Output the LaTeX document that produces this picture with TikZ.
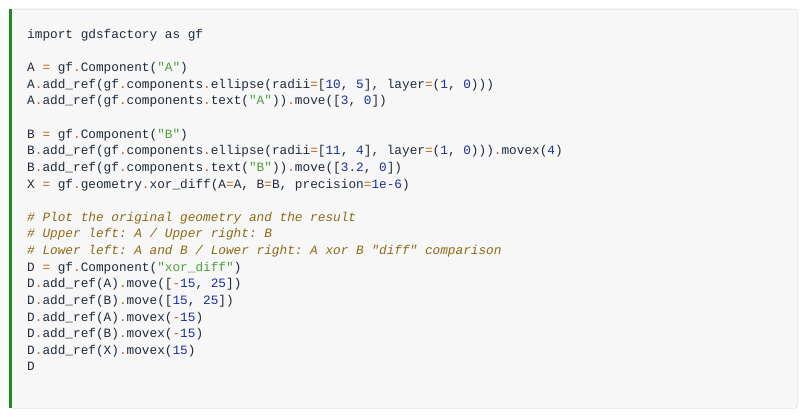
\documentclass[tikz,border=0pt]{standalone}
\usepackage{fontspec}
\setmonofont{Liberation Mono}
\definecolor{bg}{HTML}{F7F7F7}
\definecolor{bd}{HTML}{CFCFCF}
\definecolor{bar}{HTML}{1E8C1E}
\definecolor{txt}{HTML}{1F2A3C}
\definecolor{opc}{HTML}{B8631A}
\definecolor{strc}{HTML}{4EA03A}
\definecolor{numc}{HTML}{1A2FA0}
\definecolor{cmc}{HTML}{8C6A14}
\newcommand\Op[1]{\textcolor{opc}{#1}}
\newcommand\Sg[1]{\textcolor{strc}{#1}}
\newcommand\Nm[1]{\textcolor{numc}{#1}}
\newcommand\Cm[1]{\textcolor{cmc}{\itshape #1}}
\newcommand\D{\Op{.}}
\newcommand\E{\Op{=}}
\begin{document}
\begin{tikzpicture}[x=1pt,y=-1pt,
  code/.style={anchor=base west,inner sep=0pt,text=txt,font=\ttfamily\fontsize{12.75}{14}\selectfont}]
\useasboundingbox (0,0) rectangle (807,417);
\fill[white] (0,0) rectangle (807,417);
\node[draw=bd,fill=bg,rounded corners=2pt,minimum width=788,minimum height=399,anchor=north west,inner sep=0pt] (box) at (9,9) {};
\fill[bar] (box.north west) rectangle ([xshift=3]box.south west);
\def\ly#1{\fpeval{38.5+16.62*(#1-1)}}
\node[code] (l1) at (27,\ly{1}) {import gdsfactory as gf};
\node[code] (l3) at (27,\ly{3}) {A \E{} gf\D Component(\Sg{"A"})};
\node[code] (l4) at (27,\ly{4}) {A\D add\_ref(gf\D components\D ellipse(radii\E[\Nm{10}, \Nm{5}], layer\E(\Nm{1}, \Nm{0})))};
\node[code] (l5) at (27,\ly{5}) {A\D add\_ref(gf\D components\D text(\Sg{"A"}))\D move([\Nm{3}, \Nm{0}])};
\node[code] (l7) at (27,\ly{7}) {B \E{} gf\D Component(\Sg{"B"})};
\node[code] (l8) at (27,\ly{8}) {B\D add\_ref(gf\D components\D ellipse(radii\E[\Nm{11}, \Nm{4}], layer\E(\Nm{1}, \Nm{0})))\D movex(\Nm{4})};
\node[code] (l9) at (27,\ly{9}) {B\D add\_ref(gf\D components\D text(\Sg{"B"}))\D move([\Nm{3.2}, \Nm{0}])};
\node[code] (l10) at (27,\ly{10}) {X \E{} gf\D geometry\D xor\_diff(A\E A, B\E B, precision\E\Nm{1e-6})};
\node[code] (l12) at (27,\ly{12}) {\Cm{\# Plot the original geometry and the result}};
\node[code] (l13) at (27,\ly{13}) {\Cm{\# Upper left: A / Upper right: B}};
\node[code] (l14) at (27,\ly{14}) {\Cm{\# Lower left: A and B / Lower right: A xor B "diff" comparison}};
\node[code] (l15) at (27,\ly{15}) {D \E{} gf\D Component(\Sg{"xor\_diff"})};
\node[code] (l16) at (27,\ly{16}) {D\D add\_ref(A)\D move([\Op{-}\Nm{15}, \Nm{25}])};
\node[code] (l17) at (27,\ly{17}) {D\D add\_ref(B)\D move([\Nm{15}, \Nm{25}])};
\node[code] (l18) at (27,\ly{18}) {D\D add\_ref(A)\D movex(\Op{-}\Nm{15})};
\node[code] (l19) at (27,\ly{19}) {D\D add\_ref(B)\D movex(\Op{-}\Nm{15})};
\node[code] (l20) at (27,\ly{20}) {D\D add\_ref(X)\D movex(\Nm{15})};
\node[code] (l21) at (27,\ly{21}) {D};
\end{tikzpicture}
\end{document}
